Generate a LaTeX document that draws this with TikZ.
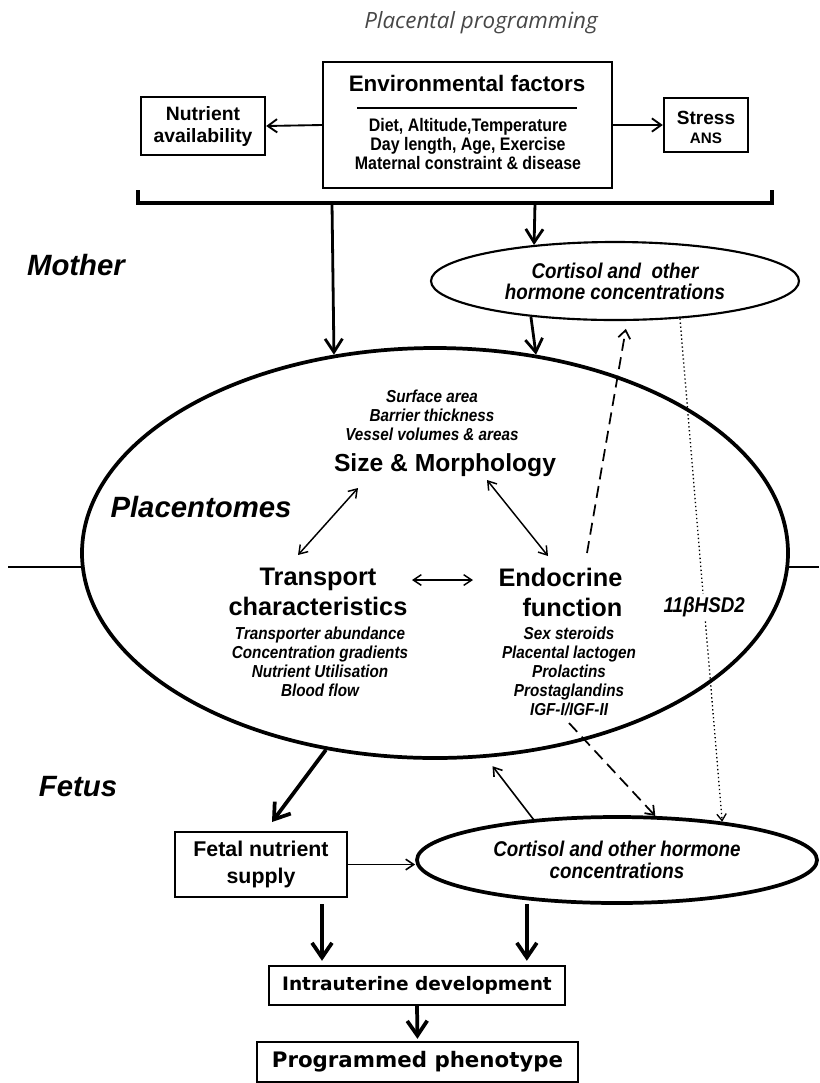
\documentclass[tikz,border=0pt]{standalone}
\usepackage{fontspec}
\setmainfont{Liberation Sans}
\newfontfamily\narrowsans[FakeStretch=0.88]{Liberation Sans}
\newfontfamily\titlefont{Open Sans}
\newfontfamily\verdfont{DejaVu Sans}
\usetikzlibrary{arrows.meta,calc,shapes.geometric}
\begin{document}
\begin{tikzpicture}[x=0.75pt,y=-0.75pt,
  boxnode/.style={draw,line width=1.8pt,rectangle,inner sep=0pt,align=center},
  ell/.style={draw,ellipse,inner sep=0pt,align=center},
  lbl/.style={inner sep=0pt,align=center},
  side/.style={lbl,font=\bfseries\itshape\fontsize{22}{24}\selectfont},
  smallit/.style={lbl,font=\narrowsans\bfseries\itshape\fontsize{13}{14.25}\selectfont},
  headline/.style={lbl,font=\bfseries\fontsize{19}{22.5}\selectfont},
  bigarrow/.style={line width=2.8pt,-{Straight Barb[length=11pt,width=15pt]}},
  medarrow/.style={line width=2.1pt,-{Straight Barb[length=10pt,width=13pt]}},
  envarrow/.style={line width=1.4pt,-{Straight Barb[length=7pt,width=10pt]}},
  thinarrow/.style={line width=1.2pt,-{Straight Barb[length=6pt,width=8pt]}},
  dblarrow/.style={line width=1.1pt,{Straight Barb[length=6pt,width=8pt]}-{Straight Barb[length=6pt,width=8pt]}},
  dasharrow/.style={line width=1.3pt,dash pattern=on 9pt off 5pt,-{Straight Barb[length=6pt,width=9pt]}},
  dotarrow/.style={line width=1pt,dotted,-{Straight Barb[length=5pt,width=7pt]}}]
\useasboundingbox (0,0) rectangle (819,1083);

% title
\node[lbl,font=\titlefont\itshape\fontsize{16.8}{19}\selectfont,text=black!72] (title) at (481,23) {Placental programming};

% environmental factors
\node[boxnode,minimum width=216.75pt,minimum height=94.5pt] (env) at (467.5,125) {};
\node[lbl,font=\bfseries\fontsize{16.8}{19}\selectfont] (envt) at (467,83) {Environmental factors};
\draw[line width=1.5pt] (357,108) -- (577,108);
\node[lbl,font=\narrowsans\bfseries\fontsize{13.6}{13.9}\selectfont] (envl) at (468,144) {Diet, Altitude,Temperature\\Day length, Age, Exercise\\Maternal constraint \& disease};

\node[boxnode,minimum width=93pt,minimum height=43.5pt,font=\bfseries\fontsize{14.5}{16.5}\selectfont] (nut) at (203,126) {Nutrient\\availability};
\node[boxnode,minimum width=63pt,minimum height=40.5pt] (stress) at (706,125) {};
\node[lbl,font=\bfseries\fontsize{14.3}{16}\selectfont] (stresst) at (706,118) {Stress};
\node[lbl,font=\bfseries\fontsize{11.4}{13}\selectfont] (ans) at (706,138) {ANS};

\draw[envarrow] (env.west) -- (nut.east);
\draw[envarrow] (env.east) -- (stress.west);

% bracket
\draw[line width=2.8pt] (138,190) -- (138,203) -- (772,203) -- (772,190);
\coordinate (bl) at (332,203);
\coordinate (br) at (535,203);

% side labels
\node[side] (mother) at (76,265) {Mother};
\node[side] (placent) at (201,507) {Placentomes};
\node[side] (fetus) at (78,787) {Fetus};

% maternal hormones
\node[ell,line width=1.6pt,minimum width=276pt,minimum height=58.5pt,font=\narrowsans\bfseries\itshape\fontsize{16}{15.75}\selectfont] (mat) at (615,281) {Cortisol and~ other\\hormone concentrations};

% placentome
\node[ell,line width=2.8pt,minimum width=529.5pt,minimum height=307.5pt] (plac) at (435,553) {};
\draw[line width=1pt] (8,567) -- (82,567);
\draw[line width=1pt] (789,567) -- (819,567);

\draw[medarrow] (bl) -- (plac.117.7);
\draw[medarrow] (br) -- (mat.156.3);
\draw[medarrow] (mat.203.7) -- (plac.63);

% inside placentome
\node[smallit] (morphl) at (432,415) {Surface area\\Barrier thickness\\Vessel volumes \& areas};
\node[lbl,font=\bfseries\fontsize{18.5}{20}\selectfont] (size) at (445,465) {Size \& Morphology};
\node[headline] (trans) at (318,592) {Transport\\characteristics};
\node[headline,align=right] (endo) at (560.5,592) {Endocrine\\function};
\node[smallit] (transl) at (320,661.5) {Transporter abundance\\Concentration gradients\\Nutrient Utilisation\\Blood flow};
\node[smallit] (endol) at (569,671) {Sex steroids\\Placental lactogen\\Prolactins\\Prostaglandins\\IGF-I/IGF-II};

\draw[dblarrow] ($(size.center)+(-87,23)$) -- ($(trans.center)+(-20,-37)$);
\draw[dblarrow] ($(size.center)+(42,15)$) -- ($(endo.center)+(-12.5,-36)$);
\draw[dblarrow] ($(trans.center)+(94,-12)$) -- ($(endo.center)+(-87.5,-12)$);

\draw[dasharrow,shorten >=6pt] ($(endo.center)+(26.5,-39)$) -- (mat.287.1);

% fetal side
\node[boxnode,minimum width=129pt,minimum height=48.75pt,font=\bfseries\fontsize{16}{20}\selectfont] (fetbox) at (261,864.5) {Fetal nutrient\\supply};
\node[ell,line width=2.8pt,minimum width=300pt,minimum height=64.5pt,font=\narrowsans\bfseries\itshape\fontsize{16}{16.5}\selectfont] (fet) at (617,860) {Cortisol and other hormone\\concentrations};

\draw[dotarrow] (mat.330.2) -- node[pos=0.573,fill=white,inner sep=2pt,font=\narrowsans\bfseries\itshape\fontsize{16}{18}\selectfont] (hsd) {11βHSD2} (fet.20.9);
\draw[dasharrow] ($(endol.center)+(0,52)$) -- (fet.49.6);
\draw[bigarrow] (plac.241.5) -- ($(fetbox.center)+(11,-42.5)$);
\draw[thinarrow,shorten >=8pt] (fet.154.4) -- (plac.284.7);
\draw[thinarrow] (fetbox.east) -- (fet.west |- fetbox.east);

% bottom
\node[boxnode,minimum width=222pt,minimum height=29.25pt,font=\verdfont\bfseries\fontsize{13.9}{16}\selectfont] (intra) at (417,985.5) {Intrauterine development};
\node[boxnode,minimum width=240.75pt,minimum height=30pt,font=\verdfont\bfseries\fontsize{16}{18}\selectfont] (prog) at (417.5,1062) {Programmed phenotype};

\coordinate (fl) at ($(fetbox.south)+(61,0)$);
\draw[bigarrow,shorten <=4.5pt,shorten >=3pt] (fl) -- (fl |- intra.north);
\draw[bigarrow,shorten <=3pt,shorten >=3pt] (fet.204) -- (fet.204 |- intra.north);
\draw[bigarrow,shorten >=1.5pt] (intra.south) -- (prog.north);
\end{tikzpicture}
\end{document}
